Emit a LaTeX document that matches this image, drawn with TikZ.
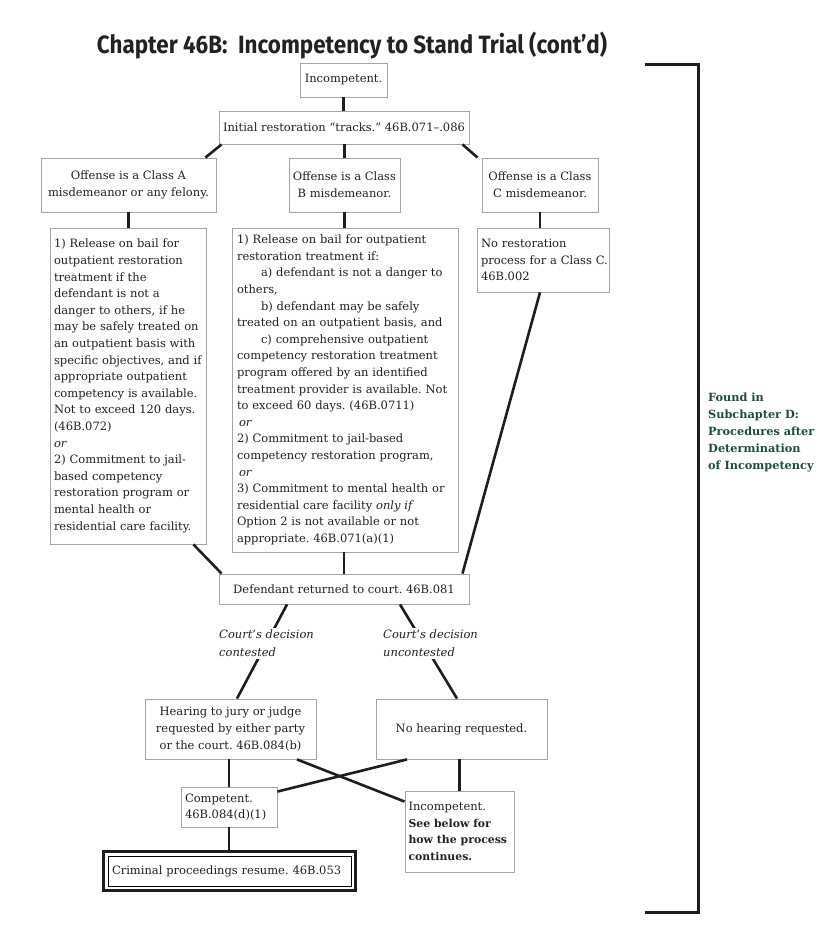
\documentclass[tikz,border=0pt]{standalone}
\usepackage{fontspec}
\usepackage{graphicx}
\setmainfont{DejaVu Serif}
\newfontfamily\titlefont{Fira Sans}
\usetikzlibrary{calc}
\definecolor{boxgray}{RGB}{165,165,165}
\definecolor{ink}{RGB}{34,34,34}
\definecolor{connc}{RGB}{30,30,30}
\definecolor{sgreen}{RGB}{28,78,60}
\frenchspacing
\hyphenpenalty=10000
\exhyphenpenalty=10000
\begin{document}
\begin{tikzpicture}[x=1pt,y=-1pt,
  font=\fontsize{11.5}{16.6}\selectfont,
  every node/.style={text=ink},
  box/.style={draw=boxgray, line width=0.9pt, fill=white, inner sep=0pt, align=center},
  lbox/.style={draw=boxgray, line width=0.9pt, fill=white, inner ysep=0pt, inner xsep=#1, align=left},
  lbox/.default=4pt,
  conn/.style={draw=connc, line width=2.6pt},
  lbl/.style={fill=white, inner sep=2pt, align=left, font=\fontsize{11.5}{17.5}\selectfont\itshape},
  ]
\useasboundingbox (0,0) rectangle (835,937);

% title
\node[anchor=base, inner sep=0pt] (title) at (352,53)
  {\resizebox{510pt}{21.5pt}{\titlefont\bfseries Chapter 46B:\ \ Incompetency to Stand Trial (cont’d)}};

% nodes
\node[box, minimum width=87pt, minimum height=34pt] (inc) at (343.5,80) {Incompetent.};
\node[box, minimum width=250pt, minimum height=33pt] (init) at (344,127.5) {Initial restoration “tracks.” 46B.071–.086};
\node[box, minimum width=175pt, minimum height=54pt] (clA) at (128.5,185) {Offense is a Class A\\misdemeanor or any felony.};
\node[box, minimum width=111pt, minimum height=54pt] (clB) at (344.5,185) {Offense is a Class\\B misdemeanor.};
\node[box, minimum width=116pt, minimum height=54pt] (clC) at (540,185) {Offense is a Class\\C misdemeanor.};

\node[lbox, text width=148pt, minimum height=316pt] (bxA) at (128,386) {1) Release on bail for\\
outpatient restoration\\
treatment if the\\
defendant is not a\\
danger to others, if he\\
may be safely treated on\\
an outpatient basis with\\
specific objectives, and if\\
appropriate outpatient\\
competency is available.\\
Not to exceed 120 days.\\
(46B.072)\\
\textit{or}\\
2) Commitment to jail-\\
based competency\\
restoration program or\\
mental health or\\
residential care facility.};

\node[lbox=5pt, text width=216pt, minimum height=324pt] (bxB) at (345,390) {1) Release on bail for outpatient\\
restoration treatment if:\\
\hspace*{24pt}a) defendant is not a danger to\\
others,\\
\hspace*{24pt}b) defendant may be safely\\
treated on an outpatient basis, and\\
\hspace*{24pt}c) comprehensive outpatient\\
competency restoration treatment\\
program offered by an identified\\
treatment provider is available. Not\\
to exceed 60 days. (46B.0711)\\
\hspace*{2pt}\textit{or}\\
2) Commitment to jail-based\\
competency restoration program,\\
\hspace*{2pt}\textit{or}\\
3) Commitment to mental health or\\
residential care facility \textit{only if}\\
Option 2 is not available or not\\
appropriate. 46B.071(a)(1)};

\node[lbox=4pt, text width=124pt, minimum height=64pt] (bxC) at (543,260) {No restoration\\\mbox{process for a Class C.}\\46B.002};

\node[box, minimum width=250pt, minimum height=30pt] (def) at (344,589) {Defendant returned to court. 46B.081};

\node[box, minimum width=171pt, minimum height=60pt] (hear) at (230.5,729) {Hearing to jury or judge\\requested by either party\\or the court. 46B.084(b)};
\node[box, minimum width=171pt, minimum height=60pt] (nohear) at (461.5,729) {No hearing requested.};

\node[lbox, text width=88pt, minimum height=40pt] (comp) at (229,807) {Competent.\\46B.084(d)(1)};
\node[lbox=3.5pt, text width=102pt, minimum height=81pt] (inc2) at (459.5,831.5) {Incompetent.\\{\fontsize{10.9}{16.6}\selectfont\bfseries See below for\\\mbox{how the process}\\continues.}};

\node[lbox=4pt, draw=black, line width=1pt, text width=235pt, minimum height=30pt] (crim) at (229.5,871) {Criminal proceedings resume. 46B.053};
\draw[line width=2.4pt, draw=connc] ([shift={(-4pt,4pt)}]crim.north west) rectangle ([shift={(4pt,-4pt)}]crim.south east);

% connectors
\draw[conn] (inc.south) -- (inc.south |- init.north);
\draw[conn] ([xshift=3pt]init.south west) -- ([xshift=-11pt]clA.north east);
\draw[conn] (clB.north |- init.south) -- (clB.north);
\draw[conn] ([xshift=-7pt]init.south east) -- ([xshift=-4pt]clC.north west);
\draw[conn] (clA.south) -- (clA.south |- bxA.north);
\draw[conn] (clB.south) -- (clB.south |- bxB.north);
\draw[conn] (clC.south) -- (clC.south |- bxC.north);
\draw[conn] ([xshift=-13pt]bxA.south east) -- ([xshift=3pt]def.north west);
\draw[conn] (def.north |- bxB.south) -- (def.north);
\draw[conn] ([xshift=-3pt]bxC.south) -- ([xshift=-7pt]def.north east);
\draw[conn] ([xshift=-57pt]def.south) -- ([xshift=6.5pt]hear.north);
\draw[conn] ([xshift=56pt]def.south) -- ([xshift=-4.5pt]nohear.north);
\draw[conn] (comp.north |- hear.south) -- (comp.north);
\draw[conn] ([xshift=66.5pt]hear.south) -- ([yshift=-11pt]inc2.north west);
\draw[conn] ([xshift=-54.5pt]nohear.south) -- ([yshift=-5pt]comp.north east);
\draw[conn] (inc2.north |- nohear.south) -- (inc2.north);
\draw[conn] (comp.south) -- ([yshift=4pt]comp.south |- crim.north);

% decision labels
\node[lbl, anchor=north west] (lcon) at (217,628) {Court’s decision\\contested};
\node[lbl, anchor=north west] (lunc) at (381,628) {Court’s decision\\uncontested};

% bracket and note
\draw[line width=3pt, draw=connc] (645,64) -- (698,64) -- (698,912) -- (645,912);
\node[anchor=north west, text=sgreen, inner sep=0pt, align=left, font=\fontsize{11.3}{17}\selectfont\bfseries] (found) at (708,393)
  {Found in\\Subchapter D:\\Procedures after\\Determination\\of Incompetency};
\end{tikzpicture}
\end{document}
